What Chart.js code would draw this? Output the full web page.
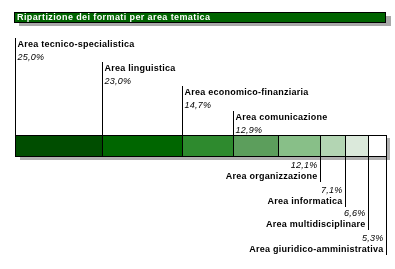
<!DOCTYPE html>
<html>
<head>
<meta charset="utf-8">
<script src="https://cdn.jsdelivr.net/npm/chart.js@4"></script>
<style>
  html, body { margin: 0; padding: 0; background: #fff; }
  #wrap { width: 395px; height: 269px; position: relative; }
</style>
</head>
<body>
<div id="wrap"><canvas id="chart" width="395" height="269"></canvas></div>
<script>
// dati del grafico
var titolo = 'Ripartizione dei formati per area tematica';
var aree = ['Area tecnico-specialistica', 'Area linguistica', 'Area economico-finanziaria',
  'Area comunicazione', 'Area organizzazione', 'Area informatica',
  'Area multidisciplinare', 'Area giuridico-amministrativa'];
var percentuali = [25.0, 23.0, 14.7, 12.9, 12.1, 7.1, 6.6, 5.3];
var etichettePerc = ['25,0%', '23,0%', '14,7%', '12,9%', '12,1%', '7,1%', '6,6%', '5,3%'];
var colori = ['#004d00', '#006600', '#2e8a2e', '#5c9e5c', '#88bf88', '#b3d5b3', '#dbe9db', '#ffffff'];

var totale = percentuali.reduce(function (a, b) { return a + b; }, 0);

var datasets = aree.map(function (nome, i) {
  return {
    label: nome,
    data: [percentuali[i]],
    backgroundColor: colori[i],
    borderWidth: 0,
    barPercentage: 1,
    categoryPercentage: 1
  };
});

var FONT = '"Liberation Sans", Arial, sans-serif';

// ombra, titolo, bordi ed etichette
var decorazioni = {
  id: 'decorazioni',
  beforeDatasetsDraw: function (chart) {
    var ctx = chart.ctx;
    var a = chart.chartArea;
    ctx.save();
    ctx.fillStyle = '#b0b0b0';
    ctx.fillRect(a.left + 5, a.top + 3, a.right - a.left - 1, a.bottom - a.top);
    ctx.restore();
  },
  afterDatasetsDraw: function (chart) {
    var ctx = chart.ctx;
    var a = chart.chartArea;
    var x = chart.scales.x;
    ctx.save();

    // barra del titolo
    ctx.fillStyle = '#a8a8a8';
    ctx.fillRect(19, 16, 372, 10);
    ctx.fillStyle = '#006400';
    ctx.fillRect(14, 12, 371, 10);
    ctx.strokeStyle = '#000';
    ctx.lineWidth = 1;
    ctx.strokeRect(14.5, 12.5, 371, 10);
    ctx.fillStyle = '#fff';
    ctx.font = 'bold 9px ' + FONT;
    ctx.letterSpacing = '0.4px';
    ctx.textBaseline = 'middle';
    ctx.textAlign = 'left';
    ctx.fillText(titolo, 17, 17.5);

    // bordi dei segmenti
    var cum = 0;
    var bordi = [x.getPixelForValue(0)];
    percentuali.forEach(function (v) {
      cum += v;
      bordi.push(x.getPixelForValue(cum));
    });
    ctx.strokeStyle = '#000';
    ctx.beginPath();
    bordi.forEach(function (px) {
      var p = Math.round(px) + 0.5;
      ctx.moveTo(p, a.top);
      ctx.lineTo(p, a.bottom);
    });
    ctx.moveTo(bordi[0], a.top + 0.5);
    ctx.lineTo(bordi[bordi.length - 1] + 1, a.top + 0.5);
    ctx.moveTo(bordi[0], a.bottom - 0.5);
    ctx.lineTo(bordi[bordi.length - 1] + 1, a.bottom - 0.5);
    ctx.stroke();

    ctx.letterSpacing = '0.25px';

    // etichette sopra (prime quattro, dal bordo sinistro)
    var cimaSopra = [38, 62, 86, 111];
    ctx.fillStyle = '#000';
    for (var i = 0; i < 4; i++) {
      var px = Math.round(bordi[i]) + 0.5;
      var y0 = cimaSopra[i];
      ctx.beginPath();
      ctx.moveTo(px, y0);
      ctx.lineTo(px, a.top);
      ctx.stroke();
      ctx.textAlign = 'left';
      ctx.font = 'bold 9px ' + FONT;
      ctx.fillText(aree[i], px + 2, y0 + 7);
      ctx.font = 'italic 9px ' + FONT;
      ctx.fillText(etichettePerc[i], px + 2, y0 + 19);
    }

    // etichette sotto (ultime quattro, dal bordo destro)
    var fondoSotto = [182, 207, 230, 255];
    for (var j = 4; j < 8; j++) {
      var qx = Math.round(bordi[j + 1]) + 0.5;
      var y1 = fondoSotto[j - 4];
      ctx.beginPath();
      ctx.moveTo(qx, a.bottom);
      ctx.lineTo(qx, y1);
      ctx.stroke();
      ctx.textAlign = 'right';
      ctx.font = 'italic 9px ' + FONT;
      ctx.fillText(etichettePerc[j], qx - 3, y1 - 17);
      ctx.font = 'bold 9px ' + FONT;
      ctx.fillText(aree[j], qx - 3, y1 - 5);
    }
    ctx.restore();
  }
};

new Chart(document.getElementById('chart'), {
  type: 'bar',
  data: { labels: [''], datasets: datasets },
  options: {
    indexAxis: 'y',
    responsive: false,
    animation: false,
    layout: { padding: { left: 15, right: 9, top: 135, bottom: 112 } },
    scales: {
      x: { stacked: true, display: false, min: 0, max: totale },
      y: { stacked: true, display: false }
    },
    plugins: { legend: { display: false }, tooltip: { enabled: false }, title: { display: false } }
  },
  plugins: [decorazioni]
});
</script>
</body>
</html>
